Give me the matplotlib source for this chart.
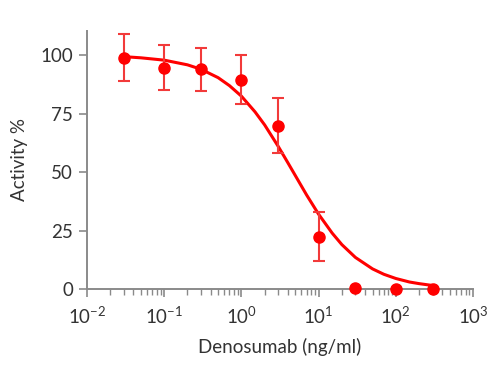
import numpy as np
import matplotlib
matplotlib.use("Agg")
import matplotlib.pyplot as plt
from matplotlib.ticker import LogLocator, FixedLocator

plt.rcParams["font.family"] = ["Lato", "DejaVu Sans"]
plt.rcParams["mathtext.fontset"] = "custom"
plt.rcParams["mathtext.rm"] = "Lato"
plt.rcParams["mathtext.it"] = "Lato"

# ── Data ──────────────────────────────────────────────────────────────────────
conc     = [0.03, 0.1, 0.3, 1, 3, 10, 30, 100, 300]
activity = [99.0, 94.7, 94.0, 89.6, 69.9, 22.4, 0.5, 0.2, 0.2]
err      = [10.2, 9.7, 9.1, 10.5, 11.9, 10.5, None, None, None]

curve_x = [0.03, 0.05, 0.1, 0.2, 0.3, 0.5, 0.7, 1, 1.5, 2, 3, 4, 5, 7,
           10, 15, 20, 30, 50, 70, 100, 150, 200, 300]
curve_y = [99.4, 98.9, 97.9, 95.9, 94.0, 90.4, 87.0, 82.5, 75.8, 70.2, 61.0,
           54.0, 48.5, 40.2, 32.0, 23.9, 19.0, 13.5, 8.6, 6.3, 4.5, 3.0, 2.3, 1.5]

x_ticks  = [1e-2, 1e-1, 1e0, 1e1, 1e2, 1e3]
x_labels = [r"$\mathregular{10^{-2}}$", r"$\mathregular{10^{-1}}$", r"$\mathregular{10^{0}}$",
            r"$\mathregular{10^{1}}$", r"$\mathregular{10^{2}}$", r"$\mathregular{10^{3}}$"]
y_ticks  = [0, 25, 50, 75, 100]

RED   = "#ff0000"
AXCOL = "#8a8a8a"
TXT   = "#333333"

fig = plt.figure(figsize=(5.0, 3.69), dpi=100)
ax = fig.add_axes([0.174, 0.2168, 0.772, 0.700])

ax.plot(curve_x, curve_y, color=RED, lw=2.2, zorder=2)

# error bars only where present
ex = [c for c, e in zip(conc, err) if e is not None]
ey = [a for a, e in zip(activity, err) if e is not None]
ee = [e for e in err if e is not None]
ax.errorbar(ex, ey, yerr=ee, fmt="none", ecolor="#f23a3a", elinewidth=1.5,
            capsize=4.5, capthick=1.5, zorder=3)
ax.plot(conc, activity, "o", color=RED, ms=8, zorder=4)

ax.set_xscale("log")
ax.set_xlim(1e-2, 1e3)
ax.set_ylim(0, 110.5)

ax.xaxis.set_major_locator(FixedLocator(x_ticks))
ax.set_xticklabels(x_labels)
ax.xaxis.set_minor_locator(LogLocator(base=10, subs=np.arange(2, 10)))
ax.xaxis.set_minor_formatter(plt.NullFormatter())
ax.set_yticks(y_ticks)

for s in ["top", "right"]:
    ax.spines[s].set_visible(False)
for s in ["left", "bottom"]:
    ax.spines[s].set_color(AXCOL)
    ax.spines[s].set_linewidth(1.4)

ax.tick_params(axis="both", which="major", length=6, width=1.2, color=AXCOL,
               labelcolor=TXT, labelsize=13.5, pad=4)
ax.tick_params(axis="x", which="minor", length=4, width=1.0, color=AXCOL)
ax.tick_params(axis="x", which="major", pad=6)

ax.set_xlabel("Denosumab (ng/ml)", color=TXT, fontsize=13.5, labelpad=8)
ax.set_ylabel("Activity %", color=TXT, fontsize=13.5, labelpad=9)

for art in ax.lines:
    art.set_clip_on(False)

fig.savefig("out.png", dpi=100, facecolor="white")
